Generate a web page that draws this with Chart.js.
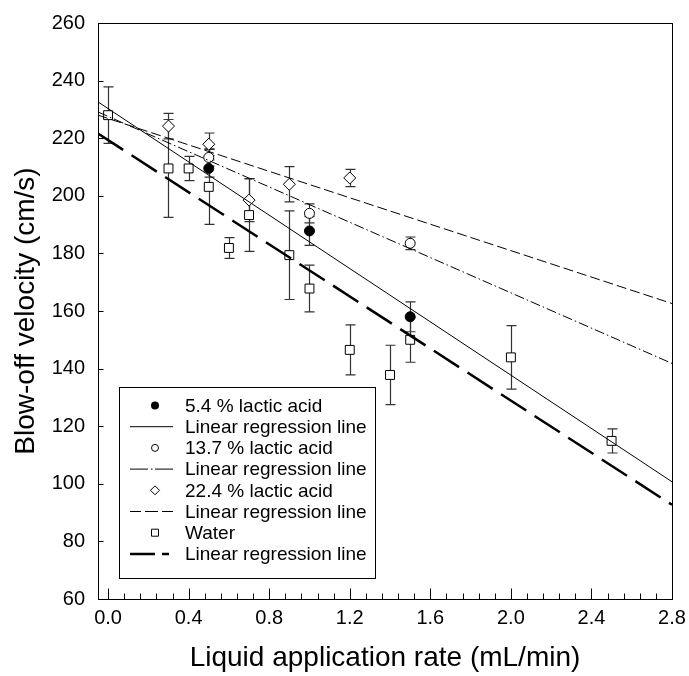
<!DOCTYPE html>
<html>
<head>
<meta charset="utf-8">
<script src="https://cdn.jsdelivr.net/npm/chart.js@4.4.0/dist/chart.umd.min.js"></script>
<style>
  html, body { margin: 0; padding: 0; background: #fff; }
</style>
</head>
<body>
<canvas id="chart" width="689" height="676"></canvas>
<script>
const FONT = '"Liberation Sans", Arial, Helvetica, sans-serif';

// axis ticks
const xTicks = [0, 0.4, 0.8, 1.2, 1.6, 2.0, 2.4, 2.8];
const yTicks = [60, 80, 100, 120, 140, 160, 180, 200, 220, 240, 260];

// 5.4 % lactic acid
const acid54X = [0.5, 1.0, 1.5];
const acid54Y = [209.5, 187.8, 158.0];
const acid54Err = [3, 5, 5.2];

// 13.7 % lactic acid
const acid137X = [0.5, 1.0, 1.5];
const acid137Y = [213.3, 193.9, 183.5];
const acid137Err = [3, 3.3, 2.2];

// 22.4 % lactic acid
const acid224X = [0.3, 0.5, 0.7, 0.9, 1.2];
const acid224Y = [224.2, 217.9, 198.5, 204.0, 206.2];
const acid224Err = [4.4, 3.9, 7.5, 6.1, 3];

// water
const waterX = [0, 0.3, 0.4, 0.5, 0.6, 0.7, 0.9, 1.0, 1.2, 1.4, 1.5, 2.0, 2.5];
const waterY = [228.0, 209.5, 209.5, 203.1, 181.9, 193.3, 179.4, 167.8, 146.5, 137.8, 150.0, 143.9, 114.9];
const waterErr = [9.8, 17, 4.2, 13, 3.6, 12.6, 15.4, 8.1, 8.7, 10.3, 7.8, 11, 4.2];

// regression lines, read at the left and right edges of the plot
const regX = [-0.05, 2.8];
const reg54Y = [232.6, 100.7];
const reg137Y = [229.1, 141.8];
const reg224Y = [228.0, 162.6];
const regWaterY = [221.6, 92.7];

const pts = (xs, ys) => xs.map((x, i) => ({ x: x, y: ys[i] }));

const legendRows = [
  { text: '5.4 % lactic acid', marker: 'filled' },
  { text: 'Linear regression line', line: 'solid' },
  { text: '13.7 % lactic acid', marker: 'circle' },
  { text: 'Linear regression line', line: 'dashdot' },
  { text: '22.4 % lactic acid', marker: 'diamond' },
  { text: 'Linear regression line', line: 'dashed' },
  { text: 'Water', marker: 'square' },
  { text: 'Linear regression line', line: 'longdash' }
];

const errorBars = {
  id: 'errorBars',
  beforeDatasetsDraw(chart) {
    const ctx = chart.ctx;
    const xs = chart.scales.x, ys = chart.scales.y;
    ctx.save();
    ctx.strokeStyle = '#333';
    ctx.lineWidth = 1.2;
    chart.data.datasets.forEach(ds => {
      if (!ds.errors) return;
      ds.data.forEach((p, i) => {
        const e = ds.errors[i];
        const px = Math.round(xs.getPixelForValue(p.x)) + 0.5;
        const top = ys.getPixelForValue(p.y + e);
        const bot = ys.getPixelForValue(p.y - e);
        ctx.beginPath();
        ctx.moveTo(px, top); ctx.lineTo(px, bot);
        ctx.moveTo(px - 5, top); ctx.lineTo(px + 5, top);
        ctx.moveTo(px - 5, bot); ctx.lineTo(px + 5, bot);
        ctx.stroke();
      });
    });
    ctx.restore();
  }
};

const frame = {
  id: 'frame',
  afterDraw(chart) {
    const ctx = chart.ctx;
    const a = chart.chartArea;
    const xs = chart.scales.x, ys = chart.scales.y;
    ctx.save();
    ctx.strokeStyle = '#000';
    ctx.lineWidth = 1;
    ctx.strokeRect(Math.round(a.left) + 0.5, Math.round(a.top) + 0.5,
      Math.round(a.right - a.left), Math.round(a.bottom - a.top));
    const b = Math.round(a.bottom) + 0.5;
    const l = Math.round(a.left) + 0.5;
    ctx.beginPath();
    // x ticks, major and minor, pointing inward
    for (let i = 0; i < xTicks.length; i++) {
      const px = Math.round(xs.getPixelForValue(xTicks[i])) + 0.5;
      ctx.moveTo(px, b); ctx.lineTo(px, b - 11);
      if (i < xTicks.length - 1) {
        const step = (xTicks[i + 1] - xTicks[i]) / 5;
        for (let k = 1; k < 5; k++) {
          const mx = Math.round(xs.getPixelForValue(xTicks[i] + k * step)) + 0.5;
          ctx.moveTo(mx, b); ctx.lineTo(mx, b - 6);
        }
      }
    }
    // y ticks
    yTicks.forEach(v => {
      const py = Math.round(ys.getPixelForValue(v)) + 0.5;
      ctx.moveTo(l, py); ctx.lineTo(l + 5, py);
    });
    ctx.stroke();
    ctx.restore();
  }
};

const legendBox = {
  id: 'legendBox',
  afterDraw(chart) {
    const ctx = chart.ctx;
    const a = chart.chartArea;
    const bx = a.left + 21, by = 387, bw = 256, bh = 191;
    ctx.save();
    ctx.fillStyle = '#fff';
    ctx.fillRect(bx, by, bw, bh);
    ctx.strokeStyle = '#000';
    ctx.lineWidth = 1;
    ctx.strokeRect(Math.round(bx) + 0.5, by + 0.5, bw, bh);
    ctx.font = '19px ' + FONT;
    ctx.fillStyle = '#000';
    ctx.textBaseline = 'middle';
    const mx = bx + 36, l0 = bx + 11, l1 = bx + 54;
    legendRows.forEach((r, i) => {
      const y = by + 18.5 + i * 21.2;
      ctx.fillStyle = '#000';
      ctx.fillText(r.text, bx + 66, y + 1);
      ctx.strokeStyle = '#000';
      if (r.marker) {
        ctx.lineWidth = 1;
        ctx.beginPath();
        if (r.marker === 'filled') {
          ctx.arc(mx, y, 4, 0, Math.PI * 2);
          ctx.fill();
        } else if (r.marker === 'circle') {
          ctx.arc(mx, y, 3.5, 0, Math.PI * 2);
          ctx.stroke();
        } else if (r.marker === 'diamond') {
          ctx.moveTo(mx, y - 4.5); ctx.lineTo(mx + 4.5, y);
          ctx.lineTo(mx, y + 4.5); ctx.lineTo(mx - 4.5, y); ctx.closePath();
          ctx.stroke();
        } else {
          ctx.rect(mx - 3.5, y - 3.5, 7, 7);
          ctx.stroke();
        }
      } else {
        ctx.beginPath();
        ctx.lineWidth = r.line === 'longdash' ? 2.5 : 1;
        if (r.line === 'solid') {
          ctx.moveTo(l0, y); ctx.lineTo(l1, y);
        } else if (r.line === 'dashdot') {
          ctx.moveTo(l0, y); ctx.lineTo(l0 + 18, y);
          ctx.moveTo(l0 + 21, y); ctx.lineTo(l0 + 22.5, y);
          ctx.moveTo(l0 + 25, y); ctx.lineTo(l1, y);
        } else if (r.line === 'dashed') {
          ctx.moveTo(l0, y); ctx.lineTo(l0 + 11, y);
          ctx.moveTo(l0 + 15, y); ctx.lineTo(l0 + 28, y);
          ctx.moveTo(l0 + 32, y); ctx.lineTo(l1, y);
        } else {
          ctx.moveTo(l0, y); ctx.lineTo(l0 + 25, y);
          ctx.moveTo(l0 + 32, y); ctx.lineTo(l0 + 39, y);
        }
        ctx.stroke();
      }
    });
    ctx.restore();
  }
};

const lineDs = (ys, dash, width) => ({
  type: 'line',
  data: pts(regX, ys),
  borderColor: '#000',
  borderWidth: width,
  borderDash: dash,
  pointRadius: 0,
  fill: false,
  tension: 0
});

const markerDs = (xs, ys, errs, style, radius, fillColor) => ({
  type: 'scatter',
  data: pts(xs, ys),
  errors: errs,
  pointStyle: style,
  pointRadius: radius,
  pointBackgroundColor: fillColor,
  pointBorderColor: '#000',
  pointBorderWidth: 1,
  showLine: false
});

new Chart(document.getElementById('chart').getContext('2d'), {
  type: 'scatter',
  data: {
    datasets: [
      lineDs(reg54Y, [], 1),
      lineDs(reg137Y, [10, 3, 1.5, 3], 1),
      lineDs(reg224Y, [10, 4], 1),
      lineDs(regWaterY, [30, 10], 2.5),
      markerDs(acid224X, acid224Y, acid224Err, 'rectRot', 6, '#fff'),
      markerDs(acid137X, acid137Y, acid137Err, 'circle', 5, '#fff'),
      markerDs(acid54X, acid54Y, acid54Err, 'circle', 5, '#000'),
      markerDs(waterX, waterY, waterErr, 'rect', 6.3, '#fff')
    ]
  },
  options: {
    responsive: false,
    animation: false,
    layout: { padding: { top: 23, right: 17, left: 0, bottom: 0 } },
    plugins: {
      legend: { display: false },
      tooltip: { enabled: false }
    },
    scales: {
      x: {
        type: 'linear',
        min: -0.05,
        max: 2.8,
        afterBuildTicks: s => { s.ticks = xTicks.map(v => ({ value: v })); },
        afterFit: s => { s.height = 77; s.paddingLeft = 0; s.paddingRight = 0; },
        grid: { display: false, drawTicks: false },
        border: { display: false },
        ticks: {
          color: '#000',
          padding: 7,
          maxRotation: 0,
          font: { family: FONT, size: 20 },
          callback: v => Number(v).toFixed(1)
        },
        title: {
          display: true,
          text: 'Liquid application rate (mL/min)',
          color: '#000',
          font: { family: FONT, size: 28 },
          padding: { top: 0, bottom: 1 }
        }
      },
      y: {
        type: 'linear',
        min: 60,
        max: 260,
        afterBuildTicks: s => { s.ticks = yTicks.map(v => ({ value: v })); },
        afterFit: s => { s.width = 98; s.paddingTop = 0; s.paddingBottom = 0; },
        grid: { display: false, drawTicks: false },
        border: { display: false },
        ticks: {
          color: '#000',
          padding: 13,
          font: { family: FONT, size: 20 }
        },
        title: {
          display: true,
          text: 'Blow-off velocity (cm/s)',
          color: '#000',
          font: { family: FONT, size: 28 },
          padding: { top: 9, bottom: 0 }
        }
      }
    }
  },
  plugins: [errorBars, frame, legendBox]
});
</script>
</body>
</html>
